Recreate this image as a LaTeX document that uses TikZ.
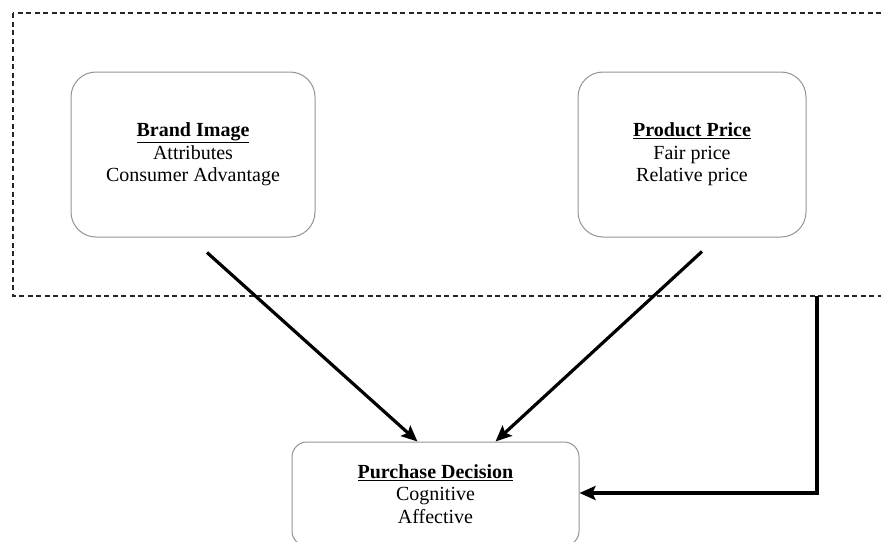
\documentclass[tikz,border=0pt]{standalone}
\usepackage{fontspec}
\setmainfont{Liberation Serif}
\usetikzlibrary{calc}
\usetikzlibrary{positioning}
\usetikzlibrary{arrows.meta}

\begin{document}
\begin{tikzpicture}[x=1pt, y=-1pt,
		    factor/.style={draw=gray!85, line width=1pt, rounded corners=25pt,
			   align=center, font=\fontsize{20}{22.5}\selectfont},
		    link/.style={draw, line width=3.2pt,
			   -{Stealth[length=16pt, width=14pt, inset=3pt]}}]
 \useasboundingbox (0,0) rectangle (881,541);
 \clip (0,0) rectangle (881,541);

 % group of the two factors
 \draw[dashed, dash pattern=on 5pt off 3.5pt, line width=1.1pt, gray!30!black]
       (13,13) rectangle (895,296);
 \coordinate (corner) at (817,296);

 \node[factor, minimum width=244pt, minimum height=165pt] (brand) at (193,154.5)
      {\underline{\textbf{Brand Image}}\\Attributes\\Consumer Advantage};
 \node[factor, minimum width=228pt, minimum height=165pt] (price) at (692,154.5)
      {\underline{\textbf{Product Price}}\\Fair price\\Relative price};
 \node[factor, rounded corners=15pt, minimum width=287pt, minimum height=104pt]
      (decision) at (435.5,494)
      {\underline{\textbf{Purchase Decision}}\\Cognitive\\Affective};

 \draw[link] ($(brand.south)+(14,15)$) -- ($(decision.north)+(-18,0)$);
 \draw[link] ($(price.south)+(10,14)$) -- ($(decision.north)+(60,0)$);
 \draw[link, line join=miter] (corner) |- ($(decision.east)+(0,-1)$);
\end{tikzpicture}
\end{document}
